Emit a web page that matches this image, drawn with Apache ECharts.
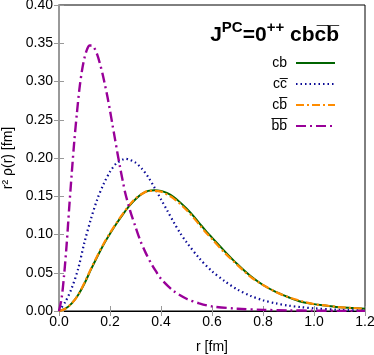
<!DOCTYPE html>
<html>
<head>
<meta charset="utf-8">
<script src="https://cdn.jsdelivr.net/npm/echarts@6/dist/echarts.min.js"></script>
<style>
    html, body { margin: 0; padding: 0; background: #fff; }
    #chart { width: 374px; height: 355px; }
</style>
</head>
<body>
<div id="chart"></div>
<script>
// r [fm] grids and r^2 rho(r) values
const cbR = [0, 0.025, 0.05, 0.075, 0.1, 0.125, 0.15, 0.175, 0.2, 0.225, 0.25, 0.275, 0.3, 0.325, 0.35, 0.375, 0.4, 0.425, 0.45, 0.475, 0.5, 0.525, 0.55, 0.575, 0.6, 0.65, 0.7, 0.75, 0.8, 0.85, 0.9, 0.95, 1.0, 1.05, 1.1, 1.15, 1.2]
const cbY = [0, 0.003, 0.010, 0.021, 0.036, 0.054, 0.071, 0.087, 0.101, 0.114, 0.126, 0.137, 0.146, 0.153, 0.157, 0.158, 0.157, 0.154, 0.149, 0.142, 0.134, 0.125, 0.115, 0.105, 0.096, 0.078, 0.061, 0.046, 0.034, 0.025, 0.018, 0.012, 0.009, 0.007, 0.005, 0.004, 0.003]
const cbbarY = [0, 0.003, 0.010, 0.021, 0.037, 0.055, 0.072, 0.088, 0.102, 0.115, 0.127, 0.138, 0.147, 0.153, 0.157, 0.157, 0.156, 0.152, 0.147, 0.140, 0.132, 0.123, 0.113, 0.103, 0.094, 0.076, 0.060, 0.045, 0.034, 0.025, 0.018, 0.013, 0.009, 0.007, 0.005, 0.004, 0.003]

const ccR = [0, 0.025, 0.05, 0.075, 0.1, 0.125, 0.15, 0.175, 0.2, 0.225, 0.25, 0.26, 0.275, 0.3, 0.325, 0.35, 0.375, 0.4, 0.425, 0.45, 0.475, 0.5, 0.55, 0.6, 0.65, 0.7, 0.75, 0.8, 0.85, 0.9, 0.95, 1.0, 1.1, 1.2]
const ccY = [0, 0.012, 0.030, 0.055, 0.090, 0.120, 0.146, 0.166, 0.182, 0.193, 0.198, 0.199, 0.198, 0.194, 0.186, 0.175, 0.161, 0.146, 0.131, 0.116, 0.102, 0.090, 0.069, 0.052, 0.039, 0.028, 0.020, 0.014, 0.010, 0.007, 0.005, 0.0035, 0.0015, 0.0007]

const bbR = [0, 0.01, 0.02, 0.03, 0.04, 0.05, 0.06, 0.07, 0.08, 0.09, 0.1, 0.11, 0.12, 0.13, 0.14, 0.15, 0.16, 0.17, 0.18, 0.19, 0.2, 0.21, 0.22, 0.23, 0.24, 0.25, 0.26, 0.28, 0.3, 0.32, 0.34, 0.36, 0.38, 0.4, 0.45, 0.5, 0.55, 0.6, 0.7, 0.8, 0.9, 1.0, 1.1, 1.2]
const bbY = [0, 0.016, 0.047, 0.087, 0.135, 0.180, 0.222, 0.258, 0.290, 0.314, 0.331, 0.342, 0.347, 0.347, 0.343, 0.335, 0.324, 0.311, 0.296, 0.280, 0.262, 0.243, 0.224, 0.205, 0.187, 0.170, 0.154, 0.130, 0.110, 0.091, 0.076, 0.063, 0.052, 0.042, 0.026, 0.016, 0.010, 0.006, 0.003, 0.0015, 0.0008, 0.0004, 0.0002, 0.0001]

const names = ['cb', 'cc\u0305', 'cb\u0305', 'b\u0305b\u0305']

const pairs = (xs, ys) => xs.map((x, i) => [x, ys[i]])

const font = 'Liberation Sans'
const tickStyle = { show: true, inside: true, length: 5, lineStyle: { color: '#999', width: 1 } }

const mkLine = (name, data, color, width, type) => ({
    name: name,
    type: 'line',
    data: data,
    smooth: 0.3,
    showSymbol: false,
    symbol: 'none',
    lineStyle: { color: color, width: width, type: type },
    itemStyle: { color: color },
    z: 3
})

const chart = echarts.init(document.getElementById('chart'))
chart.setOption({
    animation: false,
    backgroundColor: '#fff',
    textStyle: { fontFamily: font },
    grid: { left: 59, right: 9, top: 5, bottom: 44, outerBoundsMode: 'none', containLabel: false, show: true, borderColor: '#000', borderWidth: 1 },
    title: {
        text: '{n|J}{s|PC}{n|=0}{s|++}{n| cbc\u0305b\u0305}',
        right: 30,
        top: 15,
        textStyle: {
            rich: {
                n: { fontFamily: font, fontWeight: 'bold', fontSize: 21, color: '#000', verticalAlign: 'bottom', lineHeight: 26 },
                s: { fontFamily: font, fontWeight: 'bold', fontSize: 15, color: '#000', verticalAlign: 'top', lineHeight: 15 }
            }
        }
    },
    legend: {
        orient: 'vertical',
        right: 33,
        top: 51,
        align: 'right',
        itemWidth: 39,
        itemHeight: 14,
        itemGap: 7,
        data: names,
        itemStyle: { opacity: 0 },
        textStyle: { fontFamily: font, fontSize: 14, color: '#000', padding: [0, 4, 0, 0] }
    },
    xAxis: [{
        type: 'value',
        min: 0,
        max: 1.2,
        interval: 0.2,
        name: 'r [fm]',
        nameLocation: 'middle',
        nameGap: 29,
        nameTextStyle: { fontFamily: font, fontSize: 14, color: '#000' },
        axisLine: { show: true, lineStyle: { color: '#000', width: 1 } },
        axisTick: tickStyle,
        axisLabel: { fontFamily: font, fontSize: 14, color: '#000', margin: 4, formatter: v => v.toFixed(1) },
        splitLine: { show: false }
    }, {
        type: 'value',
        position: 'top',
        min: 0,
        max: 1.2,
        interval: 0.2,
        axisLine: { show: false },
        axisTick: tickStyle,
        axisLabel: { show: false },
        splitLine: { show: false }
    }],
    yAxis: [{
        type: 'value',
        min: 0,
        max: 0.4,
        interval: 0.05,
        name: 'r\u00b2 \u03c1(r) [fm]',
        nameLocation: 'middle',
        nameGap: 41,
        nameTextStyle: { fontFamily: font, fontSize: 14, color: '#000' },
        axisLine: { show: true, lineStyle: { color: '#999', width: 2 } },
        axisTick: tickStyle,
        axisLabel: { fontFamily: font, fontSize: 14, color: '#000', margin: 6, formatter: v => v.toFixed(2) },
        splitLine: { show: false }
    }, {
        type: 'value',
        position: 'right',
        min: 0,
        max: 0.4,
        interval: 0.05,
        axisLine: { show: false },
        axisTick: tickStyle,
        axisLabel: { show: false },
        splitLine: { show: false }
    }],
    series: [
        mkLine(names[0], pairs(cbR, cbY), '#006400', 2, 'solid'),
        mkLine(names[1], pairs(ccR, ccY), '#0a0a96', 2.2, [1.5, 3]),
        mkLine(names[2], pairs(cbR, cbbarY), '#ff8c00', 2.2, [8, 3, 2, 3]),
        mkLine(names[3], pairs(bbR, bbY), '#990099', 2.4, [10, 4, 2, 4])
    ]
})
</script>
</body>
</html>
